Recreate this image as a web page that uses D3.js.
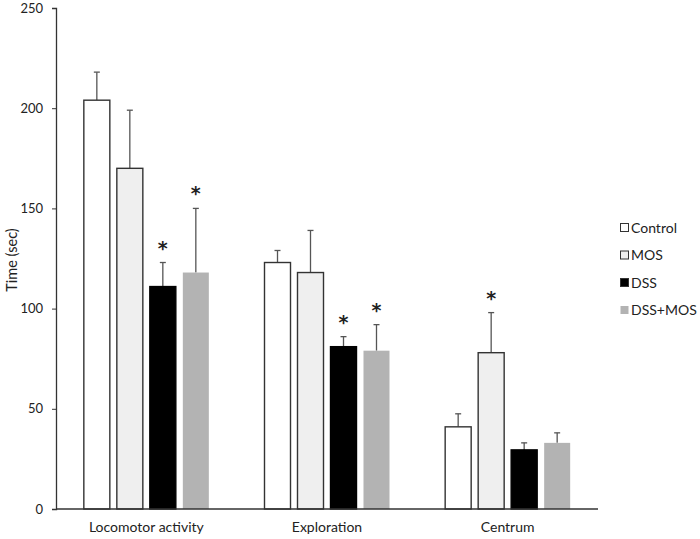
<!DOCTYPE html>
<html>
<head>
<meta charset="utf-8">
<script src="https://cdn.jsdelivr.net/npm/d3@7"></script>
<style>
  body { margin: 0; background: #fff; }
  text { font-family: Lato, "Open Sans", sans-serif; fill: #222; }
</style>
</head>
<body>
<div id="chart"></div>
<script>
const categories = ['Locomotor activity', 'Exploration', 'Centrum'];
const series = ['Control', 'MOS', 'DSS', 'DSS+MOS'];
const means = [
    [204, 170, 111, 118],
    [123, 118, 81, 79],
    [41, 78, 29.5, 33]
];
const errors = [
    [14, 29, 12, 32],
    [6, 21, 5, 13],
    [6.5, 20, 3.5, 5]
];
// significance marks, same layout as means
const stars = [
    [false, false, true, true],
    [false, false, true, true],
    [false, true, false, false]
];
const yTicks = [0, 50, 100, 150, 200, 250];

const chartWidth = 700;
const chartHeight = 539;
const plotLeft = 56, plotRight = 598, plotTop = 8, plotBottom = 509;

const fills = ['#ffffff', '#efefef', '#000000', '#b3b3b3'];
const strokes = ['#333', '#333', '#000', 'none'];

const svg = d3.select('#chart')
    .append('svg')
    .attr('width', chartWidth)
    .attr('height', chartHeight);

// scales
const x0 = d3.scaleBand()
    .domain(categories)
    .range([plotLeft, plotRight]);

const x1 = d3.scaleBand()
    .domain(series)
    .range([0, 125])
    .paddingInner(0.212);

const y = d3.scaleLinear()
    .domain([0, 250])
    .range([plotBottom, plotTop]);

// y axis
const yAxis = d3.axisLeft(y).tickValues(yTicks).tickSize(4).tickPadding(9);
const gy = svg.append('g')
    .attr('transform', `translate(${plotLeft},0)`)
    .call(yAxis);
gy.select('.domain').attr('stroke', '#333').attr('stroke-width', 1.3);
gy.selectAll('.tick line').attr('stroke', '#333');
gy.selectAll('.tick text')
    .style('font-size', '13px')
    .style('font-family', 'Lato, sans-serif')
    .attr('fill', '#222');

svg.append('text')
    .attr('transform', `translate(12, 260) rotate(-90)`)
    .attr('text-anchor', 'middle')
    .attr('dy', '0.35em')
    .style('font-size', '14.5px')
    .text('Time (sec)');

// groups
const groups = svg.append('g').selectAll('g')
    .data(categories)
    .enter()
    .append('g')
    .attr('transform', (d) => `translate(${x0(d) + x0.bandwidth() / 2 - 62.5},0)`);

const cells = groups.selectAll('g')
    .data((d, gi) => series.map((s, i) => ({
        s, i, v: means[gi][i], e: errors[gi][i], star: stars[gi][i]
    })))
    .enter()
    .append('g');

// error bars (drawn first so bar top hides the stem base)
cells.append('line')
    .attr('x1', (d) => x1(d.s) + x1.bandwidth() / 2)
    .attr('x2', (d) => x1(d.s) + x1.bandwidth() / 2)
    .attr('y1', (d) => y(d.v))
    .attr('y2', (d) => y(d.v + d.e))
    .attr('stroke', '#555')
    .attr('stroke-width', 1.3);

cells.append('line')
    .attr('x1', (d) => x1(d.s) + x1.bandwidth() / 2 - 3)
    .attr('x2', (d) => x1(d.s) + x1.bandwidth() / 2 + 3)
    .attr('y1', (d) => y(d.v + d.e))
    .attr('y2', (d) => y(d.v + d.e))
    .attr('stroke', '#555')
    .attr('stroke-width', 1.3);

cells.append('rect')
    .attr('x', (d) => x1(d.s))
    .attr('y', (d) => y(d.v))
    .attr('width', x1.bandwidth())
    .attr('height', (d) => y(0) - y(d.v))
    .attr('fill', (d) => fills[d.i])
    .attr('stroke', (d) => strokes[d.i])
    .attr('stroke-width', 1.4);

cells.filter((d) => d.star)
    .append('text')
    .attr('x', (d) => x1(d.s) + x1.bandwidth() / 2)
    .attr('y', (d) => y(d.v + d.e) - 8)
    .attr('text-anchor', 'middle')
    .style('font-size', '19px')
    .style('font-weight', 'bold')
    .style('font-family', '"DejaVu Sans", sans-serif')
    .attr('fill', '#111')
    .text('*');

// baseline
svg.append('line')
    .attr('x1', plotLeft)
    .attr('x2', plotRight)
    .attr('y1', y(0))
    .attr('y2', y(0))
    .attr('stroke', '#333')
    .attr('stroke-width', 1.3);

// category labels
svg.append('g').selectAll('text')
    .data(categories)
    .enter()
    .append('text')
    .attr('x', (d) => x0(d) + x0.bandwidth() / 2)
    .attr('y', 532)
    .attr('text-anchor', 'middle')
    .style('font-size', '14px')
    .text((d) => d);

// legend
const legend = svg.append('g')
    .attr('transform', 'translate(620, 228)')
    .selectAll('g')
    .data(series)
    .enter()
    .append('g')
    .attr('transform', (d, i) => `translate(0, ${i * 27.5})`);

legend.append('rect')
    .attr('x', 0.5)
    .attr('y', -4.5)
    .attr('width', 8)
    .attr('height', 8)
    .attr('fill', (d, i) => fills[i])
    .attr('stroke', (d, i) => (i === 3 ? 'none' : '#333'))
    .attr('stroke-width', 1);

legend.append('text')
    .attr('x', 11)
    .attr('y', 0)
    .attr('dy', '0.35em')
    .style('font-size', '14px')
    .text((d) => d);
</script>
</body>
</html>
